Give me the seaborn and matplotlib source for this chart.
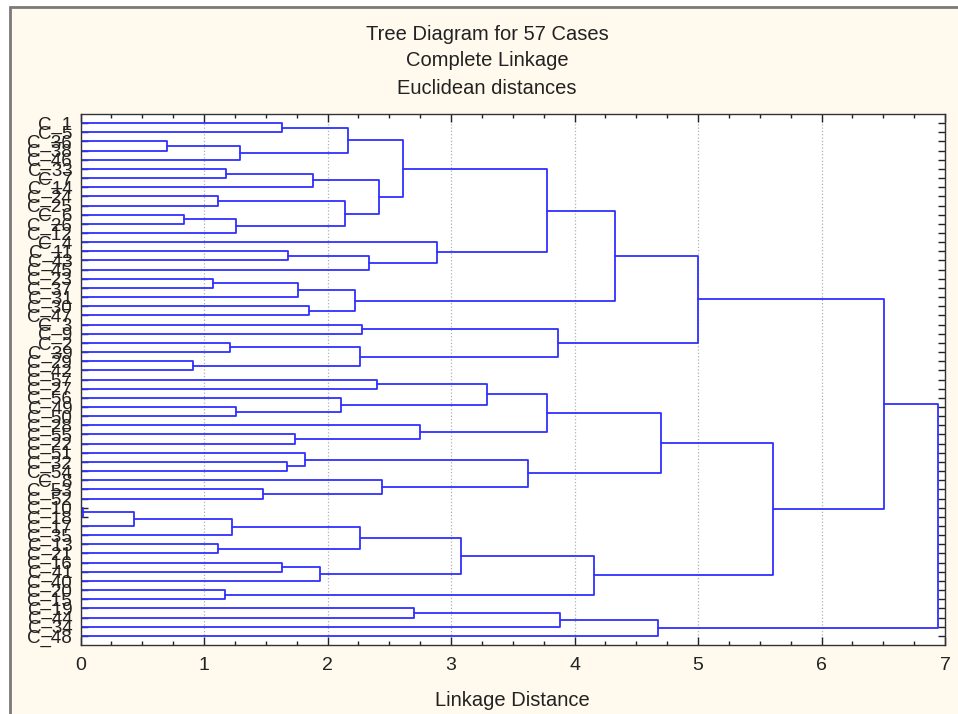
import numpy as np
import pandas as pd
import matplotlib
matplotlib.use("Agg")
import matplotlib.pyplot as plt
from matplotlib.patches import Rectangle
from matplotlib.ticker import MultipleLocator, FixedLocator
import seaborn as sns

# ---------------- data ----------------
leaf_labels = [
    "C_1", "C_5", "C_36", "C_38", "C_46", "C_33", "C_7", "C_14", "C_24", "C_25",
    "C_6", "C_26", "C_12", "C_4", "C_11", "C_43", "C_45", "C_23", "C_37", "C_31",
    "C_30", "C_47", "C_3", "C_9", "C_2", "C_39", "C_29", "C_42",
    "C_57", "C_27", "C_56", "C_49", "C_50", "C_28", "C_55", "C_22", "C_51", "C_32",
    "C_54", "C_8", "C_53", "C_52", "C_10", "C_18", "C_17", "C_35", "C_13", "C_21",
    "C_16", "C_41", "C_40", "C_20", "C_15", "C_19", "C_44", "C_34", "C_48",
]

# merges (linkage style): leaves are 0..56 (display order), new nodes 57, 58, ...
merge_left = [0, 2, 58, 57, 5, 61, 8, 10, 64, 63, 62, 60, 14, 69, 13, 68, 17, 73, 20, 74,
              72, 22, 24, 26, 79, 78, 77, 28, 31, 30, 84, 34, 33, 87, 37, 36, 40, 39, 92, 90,
              42, 97, 98, 46, 99, 48, 102, 101, 51, 104, 96, 53, 108, 109, 83, 111]
merge_right = [1, 3, 4, 59, 6, 7, 9, 11, 12, 65, 66, 67, 15, 16, 70, 71, 18, 19, 21, 75,
               76, 23, 25, 27, 80, 81, 82, 29, 32, 85, 86, 35, 88, 89, 38, 91, 41, 93, 94, 95,
               43, 44, 45, 47, 100, 49, 50, 103, 52, 105, 106, 54, 55, 56, 107, 110]
merge_height = [1.63, 0.70, 1.29, 2.17, 1.18, 1.88, 1.11, 0.84, 1.26, 2.14,
                2.42, 2.61, 1.68, 2.34, 2.89, 3.78, 1.07, 1.76, 1.85, 2.22,
                4.33, 2.28, 1.21, 0.91, 2.26, 3.87, 5.00, 2.40, 1.26, 2.11,
                3.29, 1.74, 2.75, 3.78, 1.67, 1.82, 1.48, 2.44, 3.62, 4.70,
                0.02, 0.43, 1.23, 1.11, 2.26, 1.63, 1.94, 3.08, 1.17, 4.16,
                5.61, 2.70, 3.88, 4.68, 6.51, 6.94]

x_ticks = [0, 1, 2, 3, 4, 5, 6, 7]
title_lines = ["Tree Diagram for 57 Cases", "Complete Linkage", "Euclidean distances"]
x_label = "Linkage Distance"

# ---------------- build dendrogram segments ----------------
n = len(leaf_labels)
node_y = {i: i + 1 for i in range(n)}
node_h = {i: 0.0 for i in range(n)}
rows = []
for k, (a, b, h) in enumerate(zip(merge_left, merge_right, merge_height)):
    nid = n + k
    ya, yb = node_y[a], node_y[b]
    pts = [(node_h[a], ya), (h, ya), (h, yb), (node_h[b], yb)]
    for order, (xx, yy) in enumerate(pts):
        rows.append({"seg": k, "order": order, "x": xx, "y": yy})
    node_y[nid] = (ya + yb) / 2.0
    node_h[nid] = h
df = pd.DataFrame(rows)

# ---------------- figure ----------------
sns.set_theme(style="white")
plt.rcParams["font.family"] = ["Liberation Sans", "DejaVu Sans"]

fig = plt.figure(figsize=(9.58, 7.14), dpi=100)
fig.patch.set_facecolor("white")
bg = Rectangle((10 / 958, -0.05), 1.0, 1.05 - 7 / 714, transform=fig.transFigure,
               facecolor="#FFF9EE", edgecolor="#7a7a7a", linewidth=2, zorder=-10)
fig.patches.append(bg)

ax = fig.add_axes([80.5 / 958, 1 - 645 / 714, (945 - 80.5) / 958, (645 - 114) / 714])
ax.set_facecolor("white")

sns.lineplot(data=df, x="x", y="y", units="seg", estimator=None, sort=False,
             color="#3030FF", linewidth=1.3, ax=ax, legend=False)

ax.set_xlim(0, 7)
ax.set_ylim(n + 1, 0)

ax.xaxis.set_major_locator(FixedLocator(x_ticks))
ax.xaxis.set_minor_locator(MultipleLocator(0.25))
ax.set_xticklabels([str(t) for t in x_ticks], fontsize=14, color="#222222")
ax.set_yticks(range(1, n + 1))
ax.set_yticklabels(leaf_labels, fontsize=13.5, color="#222222")
ax.tick_params(axis="both", which="both", direction="in", top=True, right=True,
               bottom=True, left=True, color="#222222")
ax.tick_params(axis="x", which="major", length=6, width=1, pad=9)
ax.tick_params(axis="x", which="minor", length=3, width=1)
ax.tick_params(axis="y", which="major", length=5, width=1, pad=6)

ax.grid(True, axis="x", which="major", linestyle=":", color="#b0b0b0", linewidth=0.9)
ax.set_axisbelow(True)
for s in ax.spines.values():
    s.set_color("#333333")
    s.set_linewidth(1.0)
    s.set_visible(True)

ax.set_xlabel(x_label, fontsize=14.5, color="#222222", labelpad=12)
ax.set_ylabel("")

for i, line in enumerate(title_lines):
    fig.text(487 / 958, 1 - (34 + 27 * i) / 714, line, ha="center", va="center",
             fontsize=14.5, color="#222222")

fig.savefig("out.png", dpi=100)
